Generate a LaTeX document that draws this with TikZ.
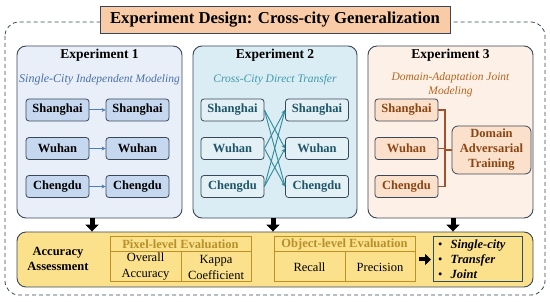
\documentclass[tikz,border=0pt]{standalone}
\usepackage{fontspec}
\setmainfont{Liberation Serif}
\usetikzlibrary{arrows.meta}
\definecolor{edgec}{HTML}{3A4758}
\definecolor{titlefill}{HTML}{F9CBA7}
\definecolor{eonebg}{HTML}{E8EFF8}
\definecolor{eonecity}{HTML}{C5D8EF}
\definecolor{eonearrow}{HTML}{4A7EC0}
\definecolor{eonesub}{HTML}{4A6FA8}
\definecolor{etwobg}{HTML}{DAECF4}
\definecolor{etwocity}{HTML}{E3F1F7}
\definecolor{etwotext}{HTML}{1F5566}
\definecolor{etwoline}{HTML}{2F8A9A}
\definecolor{etwosub}{HTML}{3E9AAB}
\definecolor{ethreebg}{HTML}{FDF0E6}
\definecolor{ethreecity}{HTML}{FBE1CB}
\definecolor{ethreetext}{HTML}{8B4513}
\definecolor{ethreeline}{HTML}{A0522D}
\definecolor{ethreesub}{HTML}{B5651D}
\definecolor{botfill}{HTML}{FBE18C}
\definecolor{tabedge}{HTML}{C09020}
\definecolor{tabhead}{HTML}{B8902A}
\definecolor{finedge}{HTML}{2F4F5F}
\begin{document}
\begin{tikzpicture}[x=1pt,y=-1pt,
  expbox/.style={draw=edgec, line width=0.9pt, rounded corners=9pt, inner sep=0pt},
  city/.style={draw=edgec, line width=0.8pt, rounded corners=3pt, minimum width=63pt, minimum height=22pt, inner sep=0pt, font=\fontsize{12.5}{15}\selectfont\bfseries},
  head/.style={font=\fontsize{13.5}{16}\selectfont\bfseries},
  sub/.style={font=\fontsize{11.5}{14}\selectfont\itshape, align=center},
  fat/.style={line width=5pt, -{Triangle[length=7pt,width=13pt]}, black},
  tab/.style={draw=tabedge, line width=1pt, inner sep=0pt, align=center, font=\fontsize{12.5}{16}\selectfont},
  thin/.style={line width=0.9pt}]
\useasboundingbox (0,0) rectangle (550,302);
% outer dashed frame
\draw[edgec, line width=0.8pt, dashed, dash pattern=on 4pt off 3pt, rounded corners=14pt] (5,22) rectangle (545,295);
\node[draw=edgec, line width=0.9pt, fill=titlefill, minimum width=350pt, minimum height=27pt, inner sep=0pt, font=\fontsize{16.7}{20}\selectfont\bfseries] (title) at (275,19.5) {Experiment Design: Cross-city Generalization};
% experiment boxes
\node[expbox, fill=eonebg, minimum width=165pt, minimum height=172pt] (e1) at (99.5,132) {};
\node[expbox, fill=etwobg, minimum width=164pt, minimum height=172pt] (e2) at (275,132) {};
\node[expbox, fill=ethreebg, minimum width=165pt, minimum height=172pt] (e3) at (450.5,132) {};
\node[head] (h1) at (99.5,55) {Experiment 1};
\node[head] (h2) at (275,55) {Experiment 2};
\node[head] (h3) at (450.5,55) {Experiment 3};
\node[sub, text=eonesub] (t1) at (99.5,80) {{\fontsize{12}{14}\selectfont Single-City} Independent Modeling};
\node[sub, text=etwosub] (t2) at (275,80) {Cross-City Direct Transfer};
\node[sub, text=ethreesub, font=\fontsize{11.5}{14}\selectfont\itshape] (t3) at (450.5,85) {Domain-Adaptation Joint\\Modeling};
% experiment 1
\node[city, fill=eonecity] (s1a) at (57.5,110) {Shanghai};
\node[city, fill=eonecity] (w1a) at (57.5,148.5) {Wuhan};
\node[city, fill=eonecity] (c1a) at (57.5,186.5) {Chengdu};
\node[city, fill=eonecity] (s1b) at (137.5,110) {Shanghai};
\node[city, fill=eonecity] (w1b) at (137.5,148.5) {Wuhan};
\node[city, fill=eonecity] (c1b) at (137.5,186.5) {Chengdu};
\foreach \a/\b in {s1a/s1b,w1a/w1b,c1a/c1b}
  \draw[eonearrow, line width=1pt, -{Stealth[length=4pt,width=4pt]}] (\a) -- (\b);
% experiment 2
\node[city, fill=etwocity, text=etwotext] (s2a) at (232.5,110) {Shanghai};
\node[city, fill=etwocity, text=etwotext] (w2a) at (232.5,148.5) {Wuhan};
\node[city, fill=etwocity, text=etwotext] (c2a) at (232.5,186.5) {Chengdu};
\node[city, fill=etwocity, text=etwotext] (s2b) at (317,110) {Shanghai};
\node[city, fill=etwocity, text=etwotext] (w2b) at (317,148.5) {Wuhan};
\node[city, fill=etwocity, text=etwotext] (c2b) at (317,186.5) {Chengdu};
\foreach \a/\b in {s2a/w2b,s2a/c2b,w2a/s2b,w2a/c2b,c2a/s2b,c2a/w2b}
  \draw[etwoline, line width=0.9pt, -{Stealth[length=4pt,width=4pt]}] (\a.east) -- (\b.west);
% experiment 3
\node[city, fill=ethreecity, text=ethreetext] (s3) at (406.5,110) {Shanghai};
\node[city, fill=ethreecity, text=ethreetext] (w3) at (406.5,148.5) {Wuhan};
\node[city, fill=ethreecity, text=ethreetext] (c3) at (406.5,186.5) {Chengdu};
\node[city, fill=ethreecity, text=ethreetext, minimum width=79pt, minimum height=48pt, rounded corners=6pt, align=center] (dat) at (491.5,150) {Domain\\Adversarial\\Training};
\coordinate (j) at (445,150);
\draw[ethreeline, line width=1.2pt] (s3.east) -| (j);
\draw[ethreeline, line width=1.2pt] (c3.east) -| (j);
\draw[ethreeline, line width=1.2pt] (w3.east) -- (w3.east -| j);
\draw[ethreeline, line width=1.2pt] (j) -- (dat.west);
% bottom box
\node[expbox, fill=botfill, minimum width=516pt, minimum height=55pt] (bot) at (275,259.5) {};
\draw[fat] ([xshift=-7.5pt]e1.south) -- ([xshift=-7.5pt]e1.south |- bot.north);
\draw[fat] ([xshift=-2pt]e2.south) -- ([xshift=-2pt]e2.south |- bot.north);
\draw[fat] ([xshift=2.5pt]e3.south) -- ([xshift=2.5pt]e3.south |- bot.north);
\node[font=\fontsize{12.5}{15}\selectfont\bfseries, align=center] (acc) at (58,258.5) {Accuracy\\Assessment};
% pixel table
\node[tab, minimum width=141pt, minimum height=15pt, text=tabhead, font=\fontsize{12.5}{15}\selectfont\bfseries] (ph) at (180.5,244.5) {Pixel-level Evaluation};
\node[tab, minimum width=71pt, minimum height=30pt] (oa) at (145.5,267) {Overall\\Accuracy};
\node[tab, minimum width=70pt, minimum height=30pt] (kc) at (216,267) {Kappa\\Coefficient};
% object table
\node[tab, minimum width=141pt, minimum height=15pt, text=tabhead, font=\fontsize{12.5}{15}\selectfont\bfseries] (oh) at (344.5,244.5) {Object-level Evaluation};
\node[tab, minimum width=71pt, minimum height=30pt] (rc) at (309.5,267) {Recall};
\node[tab, minimum width=70pt, minimum height=30pt] (pr) at (380,267) {Precision};
% final box
\node[draw=finedge, line width=1pt, minimum width=89pt, minimum height=45pt, inner sep=0pt] (fin) at (477.5,259.5) {};
\draw[line width=4pt, -{Triangle[length=6pt,width=11pt]}, black] ([xshift=3pt]pr.east |- fin.west) -- ([xshift=-1.5pt]fin.west);
\node[anchor=west, align=left, inner sep=0pt, font=\fontsize{12.5}{15}\selectfont] (lst) at (438,259.5) {\textbullet\hspace{8pt}\textbf{\textit{Single-city}}\\\textbullet\hspace{8pt}\textbf{\textit{Transfer}}\\\textbullet\hspace{8pt}\textbf{\textit{Joint}}};
\end{tikzpicture}
\end{document}
